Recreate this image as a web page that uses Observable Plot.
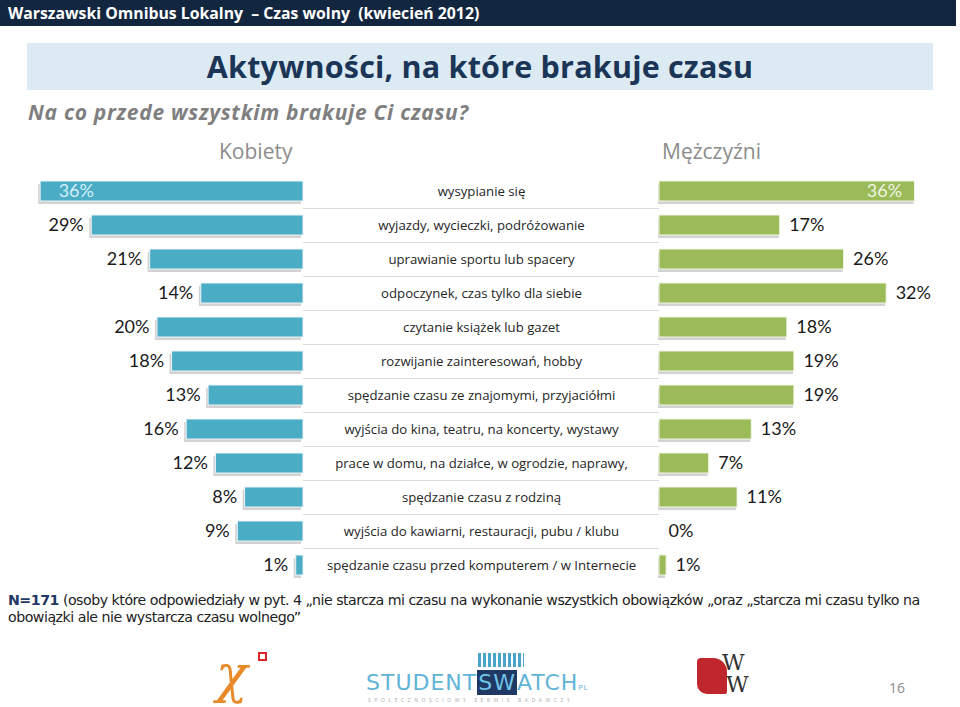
<!DOCTYPE html>
<html><head><meta charset="utf-8">
<script src="https://cdn.jsdelivr.net/npm/d3@7"></script>
<script src="https://cdn.jsdelivr.net/npm/@observablehq/plot@0.6"></script>
<style>
body{margin:0;background:#fff;}
#page{position:relative;width:960px;height:707px;overflow:hidden;font-family:"Open Sans",sans-serif;}
.abs{position:absolute;white-space:nowrap;}
#topbar{left:0;top:0;width:956px;height:26px;background:#13263f;color:#fff;font-weight:700;font-size:15.8px;line-height:26px;padding-left:8px;box-sizing:border-box;}
#titlebox{left:27px;top:43px;width:906px;height:47px;background:#dbeaf3;}
#title{left:0;top:43px;width:960px;text-align:center;color:#1b3557;font-weight:700;font-size:30.5px;line-height:47px;letter-spacing:0.2px;}
#subtitle{left:28px;top:98px;color:#7f7f7f;font-style:italic;font-weight:700;font-size:21px;letter-spacing:0.7px;}
.grp{color:#8c8c8c;font-size:21px;top:137px;}
#foot{left:8px;top:592px;font-size:14.2px;color:#222;line-height:17px;font-family:"DejaVu Sans",sans-serif;letter-spacing:-0.5px;}
#pg{left:889px;top:678px;color:#8c8c8c;font-size:14px;}
</style></head>
<body><div id="page">
<div class="abs" id="topbar">Warszawski Omnibus Lokalny&nbsp; – Czas wolny&nbsp; (kwiecień 2012)</div>
<div class="abs" id="titlebox"></div>
<div class="abs" id="title">Aktywności, na które brakuje czasu</div>
<div class="abs" id="subtitle">Na co przede wszystkim brakuje Ci czasu?</div>
<div class="abs grp" style="left:219px">Kobiety</div>
<div class="abs grp" style="left:662px">Mężczyźni</div>
<div class="abs" id="left" style="left:0;top:174px"></div>
<div class="abs" id="mid" style="left:303px;top:174px"></div>
<div class="abs" id="right" style="left:659px;top:174px"></div>
<div class="abs" id="foot"><b style="color:#1f3864">N=171</b> (osoby które odpowiedziały w pyt. 4 „nie starcza mi czasu na wykonanie wszystkich obowiązków „oraz „starcza mi czasu tylko na<br>obowiązki ale nie wystarcza czasu wolnego”</div>
<div class="abs" style="left:216px;top:648px;font-size:52px;line-height:52px;color:#e8892a;font-family:'DejaVu Serif',serif;font-style:italic;">χ</div>
<div class="abs" style="left:258px;top:652px;width:9px;height:9px;border:2px solid #d9262b;box-sizing:border-box;"></div>
<div class="abs" style="left:478px;top:653px;width:46px;height:14px;background:repeating-linear-gradient(90deg,#4aa3c8 0 3px,transparent 3px 5px);"></div>
<div class="abs" style="left:366px;top:670px;font-size:22px;line-height:26px;color:#5fb4d6;letter-spacing:1px;font-family:'DejaVu Sans',sans-serif;">STUDENT<span style="background:#1f3864;color:#6fc3e6;padding:0 1px">SW</span>ATCH<span style="font-size:7px">PL</span></div>
<div class="abs" style="left:368px;top:697px;font-size:5px;color:#aaa;letter-spacing:3.6px;">SPOŁECZNOŚCIOWY SERWIS BADAWCZY</div>
<div class="abs" style="left:697px;top:658px;width:30px;height:36px;background:#c0272d;border-radius:4px 14px 2px 10px;"></div>
<div class="abs" style="left:722px;top:652px;font-size:22px;line-height:22px;color:#333;font-family:'DejaVu Serif',serif;">W<br><span style="margin-left:4px">W</span></div>
<div class="abs" id="pg">16</div>
</div>
<script>
const categories = [
  "wysypianie się",
  "wyjazdy, wycieczki, podróżowanie",
  "uprawianie sportu lub spacery",
  "odpoczynek, czas tylko dla siebie",
  "czytanie książek lub gazet",
  "rozwijanie zainteresowań, hobby",
  "spędzanie czasu ze znajomymi, przyjaciółmi",
  "wyjścia do kina, teatru, na koncerty, wystawy",
  "prace w domu, na działce, w ogrodzie, naprawy,",
  "spędzanie czasu z rodziną",
  "wyjścia do kawiarni, restauracji, pubu / klubu",
  "spędzanie czasu przed komputerem / w Internecie"
];
const women = [36, 29, 21, 14, 20, 18, 13, 16, 12, 8, 9, 1];
const men   = [36, 17, 26, 32, 18, 19, 19, 13, 7, 11, 0, 1];

const W = categories.map((c, i) => ({cat: c, v: women[i]}));
const M = categories.map((c, i) => ({cat: c, v: men[i]}));
const wMax = d3.max(women), mMax = d3.max(men);
const yOpt = {domain: categories, axis: null, paddingInner: 0.41, paddingOuter: 0.205};
const H = 408;
const pct = d => d.v + "%";
const style = {fontFamily: "Lato, 'Open Sans', sans-serif", background: "transparent", overflow: "visible"};

const left = Plot.plot({
  width: 305, height: H, marginTop: 0, marginBottom: 0, marginLeft: 0, marginRight: 2,
  style,
  x: {domain: [0, 41.5], reverse: true, axis: null},
  y: yOpt,
  marks: [
    Plot.barX(W, {x: "v", y: "cat", fill: "#6b6b6b", fillOpacity: 0.3, dx: -2, dy: 3}),
    Plot.barX(W, {x: "v", y: "cat", fill: "#4bacc6", stroke: "#e9f5f9", strokeWidth: 1}),
    Plot.text(W.filter(d => d.v < wMax), {x: "v", y: "cat", text: pct, textAnchor: "end", dx: -8, fontSize: 18, fill: "#1a1a1a"}),
    Plot.text(W.filter(d => d.v === wMax), {x: "v", y: "cat", text: pct, textAnchor: "start", dx: 18, fontSize: 18, fill: "#d4f0f8"})
  ]
});
document.getElementById("left").appendChild(left);

const mid = Plot.plot({
  width: 356, height: H, marginTop: 0, marginBottom: 0, marginLeft: 0, marginRight: 0,
  style: {...style, fontFamily: "'Open Sans', sans-serif"},
  x: {domain: [0, 1], axis: null},
  y: yOpt,
  marks: [
    Plot.ruleY(categories.slice(0, -1), {y: d => d, dy: 17, stroke: "#dcdcdc", strokeWidth: 1}),
    Plot.text(categories, {y: d => d, text: d => d, frameAnchor: "middle", fontSize: 13.2, fill: "#262626"})
  ]
});
document.getElementById("mid").appendChild(mid);

const right = Plot.plot({
  width: 301, height: H, marginTop: 0, marginBottom: 0, marginLeft: 0, marginRight: 0,
  style,
  x: {domain: [0, 42.4], axis: null},
  y: yOpt,
  marks: [
    Plot.barX(M, {x: "v", y: "cat", fill: "#6b6b6b", fillOpacity: 0.3, dx: -1, dy: 3}),
    Plot.barX(M, {x: "v", y: "cat", fill: "#9bbb59", stroke: "#f1f6e6", strokeWidth: 1}),
    Plot.text(M.filter(d => d.v < mMax), {x: "v", y: "cat", text: pct, textAnchor: "start", dx: 9, fontSize: 18, fill: "#1a1a1a"}),
    Plot.text(M.filter(d => d.v === mMax), {x: "v", y: "cat", text: pct, textAnchor: "end", dx: -13, fontSize: 18, fill: "#eef4e2"})
  ]
});
document.getElementById("right").appendChild(right);
</script>
</body></html>
